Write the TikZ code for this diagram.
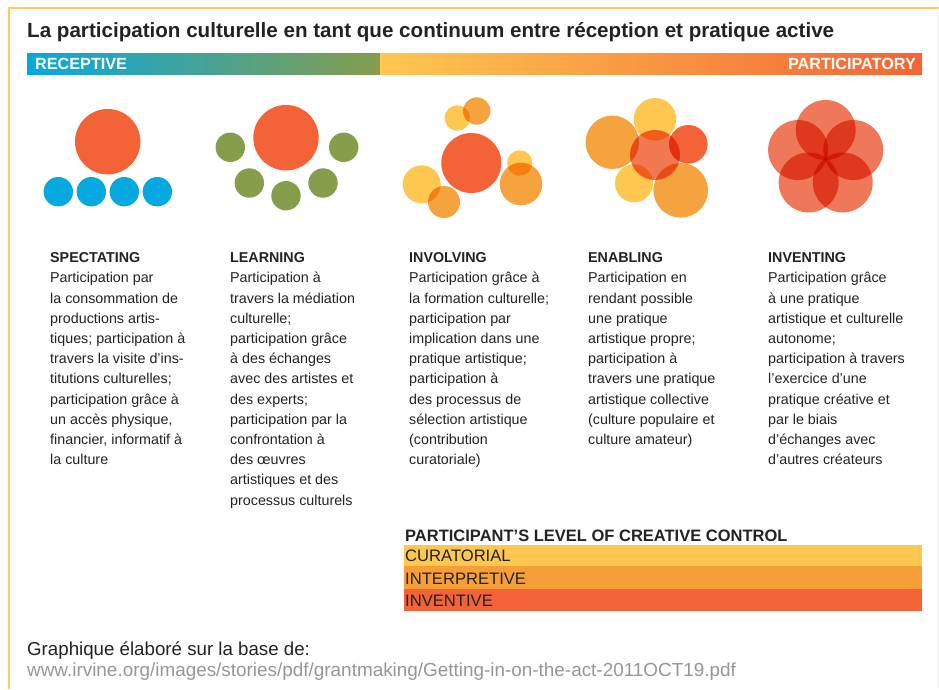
\documentclass[tikz,border=0pt]{standalone}
\usepackage{fontspec}
\setmainfont{Liberation Sans}
\definecolor{framec}{RGB}{255,204,92}
\definecolor{txt}{RGB}{34,34,34}
\definecolor{cyanc}{RGB}{6,168,224}
\definecolor{olivec}{RGB}{134,157,76}
\definecolor{yellowc}{RGB}{254,199,80}
\definecolor{orangec}{RGB}{245,163,62}
\definecolor{redc}{RGB}{243,99,55}
\definecolor{midc}{RGB}{242,120,82}
\definecolor{petalc}{RGB}{239,120,90}
\definecolor{urlc}{RGB}{150,150,150}

\begin{document}
\begin{tikzpicture}[x=1pt, y=-1pt,
	every node/.style={inner sep=0pt, text=txt},
	coltext/.style={anchor=north west, align=left, font=\fontsize{14.3}{20.2}\selectfont},
	bartext/.style={anchor=base west, font=\fontsize{16.6}{18}\selectfont}]
	\useasboundingbox (0,0) rectangle (939,689);
	\draw[framec, line width=2pt] (9,689) -- (9,8) -- (939,8);
	\draw[framec!25, line width=1pt] (937,8) -- (937,689);

	\node[anchor=base west, font=\fontsize{20.6}{22}\selectfont\bfseries] (title) at (27,37)
		{La participation culturelle en tant que continuum entre réception et pratique active};

	\shade[left color=cyanc, right color=olivec] (27,53) rectangle (380,74);
	\shade[left color=yellowc, right color=redc!95!orange] (380,53) rectangle (922,74);
	\node[anchor=base west, text=white, font=\fontsize{16.2}{17}\selectfont\bfseries] (rec) at (35,69){RECEPTIVE};
	\node[anchor=base east, text=white, font=\fontsize{16.2}{17}\selectfont\bfseries] (par) at (916,69){PARTICIPATORY};

	% spectating
	\fill[redc] (107.7,141.7) circle (32.7);
	\fill[cyanc] (58.3,191.7) circle (14.7) (91.3,191.7) circle (14.7)
		(124.3,191.7) circle (14.7) (157.3,191.7) circle (14.7);

	% learning
	\fill[redc] (286,137.7) circle (32.7);
	\fill[olivec] (230.3,147.3) circle (14.7) (343.7,147.3) circle (14.7)
		(249.3,183) circle (14.7) (286,195.7) circle (14.7) (323,183) circle (14.7);

	% involving
	\begin{scope}[blend mode=multiply]
		\fill[redc] (471.3,163) circle (30);
		\fill[yellowc] (457.3,118) circle (12.7);
		\fill[orangec] (476.7,111) circle (13.7);
		\fill[yellowc] (519.7,163) circle (12.7);
		\fill[orangec] (521,184) circle (21.3);
		\fill[yellowc] (421.7,184.3) circle (19);
		\fill[orangec] (444,202) circle (16);
	\end{scope}

	% enabling
	\begin{scope}[blend mode=multiply]
		\fill[yellowc] (655,119.3) circle (21.3);
		\fill[orangec] (612.3,142.3) circle (26.7);
		\fill[redc] (688.3,144.3) circle (19.3);
		\fill[yellowc] (634,183.3) circle (19);
		\fill[orangec] (680.7,190.3) circle (27.3);
		\fill[midc] (655,155) circle (25);
	\end{scope}

	% inventing
	\begin{scope}[blend mode=multiply]
		\foreach \a in {90,162,234,306,18}
			\fill[petalc] (825.7,159) ++(\a:-29) circle (30);
	\end{scope}

	\node[coltext] (t0) at (50,252.5){\textbf{SPECTATING}\\
		Participation par\\
		la consommation de\\
		productions artis-\\
		tiques; participation à\\
		travers la visite d’ins-\\
		titutions culturelles;\\
		participation grâce à\\
		un accès physique,\\
		financier, informatif à\\
		la culture};
	\node[coltext] (t1) at (230,252.5){\textbf{LEARNING}\\
		Participation à\\
		travers la médiation\\
		culturelle;\\
		participation grâce\\
		à des échanges\\
		avec des artistes et\\
		des experts;\\
		participation par la\\
		confrontation à\\
		des œuvres\\
		artistiques et des\\
		processus culturels};
	\node[coltext] (t2) at (409,252.5){\textbf{INVOLVING}\\
		Participation grâce à\\
		la formation culturelle;\\
		participation par\\
		implication dans une\\
		pratique artistique;\\
		participation à\\
		des processus de\\
		sélection artistique\\
		(contribution\\
		curatoriale)};
	\node[coltext] (t3) at (588,252.5){\textbf{ENABLING}\\
		Participation en\\
		rendant possible\\
		une pratique\\
		artistique propre;\\
		participation à\\
		travers une pratique\\
		artistique collective\\
		(culture populaire et\\
		culture amateur)};
	\node[coltext] (t4) at (768,252.5){\textbf{INVENTING}\\
		Participation grâce\\
		à une pratique\\
		artistique et culturelle\\
		autonome;\\
		participation à travers\\
		l’exercice d’une\\
		pratique créative et\\
		par le biais\\
		d’échanges avec\\
		d’autres créateurs};

	% creative control
	\node[anchor=base west, font=\fontsize{16.5}{18}\selectfont\bfseries] (lvl) at (405,541)
		{PARTICIPANT’S LEVEL OF CREATIVE CONTROL};
	\fill[yellowc] (404,545) rectangle (922,566);
	\fill[orangec!90!orange] (404,566) rectangle (922,589);
	\fill[redc] (404,589) rectangle (922,611);
	\node[bartext] (cur) at (405,561.5){CURATORIAL};
	\node[bartext] (int) at (405,584.5){INTERPRETIVE};
	\node[bartext] (inv) at (405,606.5){INVENTIVE};

	\node[anchor=base west, font=\fontsize{18.7}{20}\selectfont] (src) at (27,655)
		{Graphique élaboré sur la base de:};
	\node[anchor=base west, text=urlc, font=\fontsize{18.9}{20}\selectfont] (url) at (27,676)
		{www.irvine.org/images/stories/pdf/grantmaking/Getting-in-on-the-act-2011OCT19.pdf};
\end{tikzpicture}
\end{document}
